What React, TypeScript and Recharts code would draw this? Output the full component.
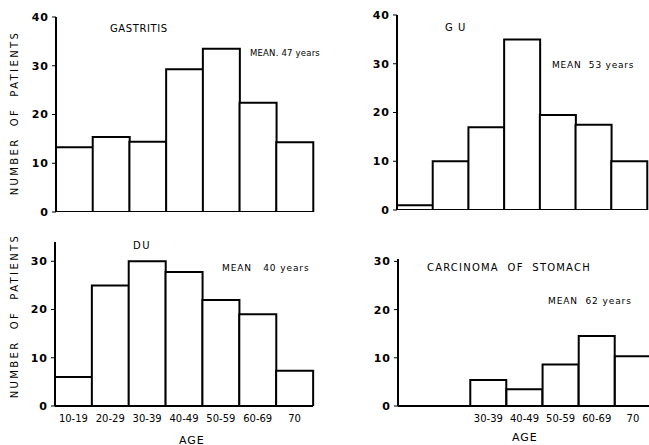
import { BarChart, Bar, XAxis, YAxis } from "recharts";

const ageGroups = ["10-19", "20-29", "30-39", "40-49", "50-59", "60-69", "70"];

const gastritis = [13.3, 15.4, 14.4, 29.3, 33.5, 22.4, 14.3];
const gu = [1, 10, 17, 35, 19.5, 17.5, 10];
const du = [6, 25, 30, 27.8, 22, 19, 7.3];
const carcinoma = [null, null, 5.4, 3.5, 8.6, 14.5, 10.3];

const topTicks = [0, 10, 20, 30, 40];
const bottomTicks = [0, 10, 20, 30];

const FONT = "'DejaVu Sans', 'Liberation Sans', sans-serif";

function toRows(values: (number | null)[]) {
  return ageGroups.map((age, i) => ({ age, n: values[i] }));
}

interface PanelProps {
  values: (number | null)[];
  left: number;
  top: number;
  width: number;
  height: number;
  yWidth: number;
  margin: { top: number; right: number; bottom: number; left: number };
  domain: [number, number];
  ticks: number[];
  showAges: boolean;
}

function Panel({ values, left, top, width, height, yWidth, margin, domain, ticks, showAges }: PanelProps) {
  return (
    <div style={{ position: "absolute", left, top }}>
      <BarChart width={width} height={height} data={toRows(values)} margin={margin} barCategoryGap={0}>
        <XAxis
          dataKey="age"
          axisLine={{ stroke: "#000", strokeWidth: 2 }}
          tickLine={false}
          height={showAges ? 20 : 0}
          tick={showAges ? { fontSize: 10, fill: "#000", fontFamily: FONT } : false}
          tickFormatter={(v, i) => (values[i] == null ? "" : v)}
          interval={0}
          tickMargin={3}
        />
        <YAxis
          width={yWidth}
          domain={domain}
          ticks={ticks}
          allowDataOverflow
          axisLine={{ stroke: "#000", strokeWidth: 2 }}
          tickLine={{ stroke: "#000" }}
          tickSize={4}
          tickMargin={3}
          tick={{ fontSize: 11, fontWeight: "bold", fill: "#000", fontFamily: FONT, letterSpacing: 1 }}
        />
        <Bar dataKey="n" fill="#fff" stroke="#000" strokeWidth={2} isAnimationActive={false} />
      </BarChart>
    </div>
  );
}

function Note({ x, y, size, text, spacing = 0 }: { x: number; y: number; size: number; text: string; spacing?: number }) {
  return (
    <div
      style={{
        position: "absolute",
        left: x,
        top: y - size / 2,
        fontSize: size,
        lineHeight: 1,
        letterSpacing: spacing,
        whiteSpace: "pre",
      }}
    >
      {text}
    </div>
  );
}

function SideLabel({ cy }: { cy: number }) {
  return (
    <div
      style={{
        position: "absolute",
        left: 15,
        top: cy,
        transform: "translate(-50%, -50%) rotate(-90deg)",
        fontSize: 10,
        letterSpacing: 2.4,
        whiteSpace: "pre",
        lineHeight: 1,
      }}
    >
      NUMBER  OF  PATIENTS
    </div>
  );
}

export default function App() {
  return (
    <div
      style={{
        position: "absolute",
        left: 0,
        top: 0,
        width: 649,
        height: 445,
        overflow: "hidden",
        background: "#fff",
        color: "#000",
        fontFamily: FONT,
      }}
    >
      <Panel
        values={gastritis}
        left={0}
        top={0}
        width={330}
        height={225}
        yWidth={56}
        margin={{ top: 17, right: 17, bottom: 13, left: 0 }}
        domain={[0, 40]}
        ticks={topTicks}
        showAges={false}
      />
      <Panel
        values={gu}
        left={330}
        top={0}
        width={319}
        height={225}
        yWidth={67}
        margin={{ top: 15, right: 2, bottom: 15, left: 0 }}
        domain={[0, 40]}
        ticks={topTicks}
        showAges={false}
      />
      <Panel
        values={du}
        left={0}
        top={225}
        width={330}
        height={220}
        yWidth={55}
        margin={{ top: 17, right: 17, bottom: 19, left: 0 }}
        domain={[0, 34]}
        ticks={bottomTicks}
        showAges={true}
      />
      <Panel
        values={carcinoma}
        left={330}
        top={225}
        width={330}
        height={220}
        yWidth={68}
        margin={{ top: 34, right: 9, bottom: 19, left: 0 }}
        domain={[0, 30.5]}
        ticks={bottomTicks}
        showAges={true}
      />

      <SideLabel cy={113} />
      <SideLabel cy={316} />

      <Note x={110} y={29} size={10} spacing={0.6} text="GASTRITIS" />
      <Note x={250} y={53} size={8.5} spacing={0.2} text="MEAN. 47 years" />
      <Note x={445} y={28} size={10} spacing={1} text="G U" />
      <Note x={552} y={65} size={9} spacing={0.8} text="MEAN  53 years" />
      <Note x={133} y={246} size={10} spacing={1.5} text="DU" />
      <Note x={222} y={268} size={9} spacing={0.9} text="MEAN   40 years" />
      <Note x={427} y={268} size={10} spacing={1.2} text="CARCINOMA  OF  STOMACH" />
      <Note x={548} y={301} size={9} spacing={0.9} text="MEAN  62 years" />
      <Note x={179} y={440} size={11} spacing={1} text="AGE" />
      <Note x={512} y={437} size={11} spacing={1} text="AGE" />
    </div>
  );
}
